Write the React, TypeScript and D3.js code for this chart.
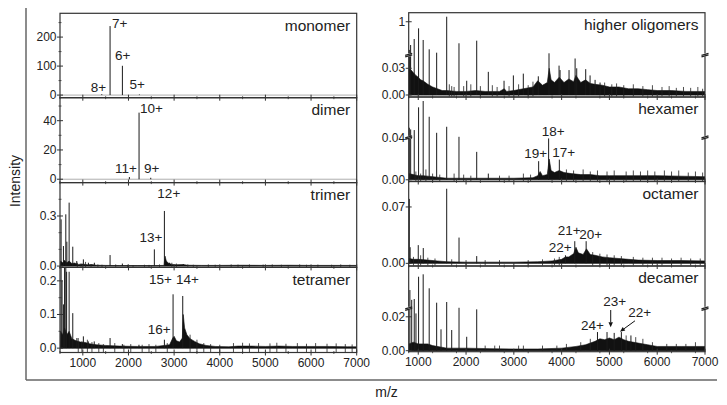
import React from "react";
import * as d3 from "d3";

type P = [number, number];

// ---------- data ----------
const mzTicks = [1000, 2000, 3000, 4000, 5000, 6000, 7000];

const monomerPeaks: P[] = [[1415, 3], [1597, 238], [1867, 101], [2239, 2]];
const dimerPeaks: P[] = [[2020, 1.5], [2232, 45.5], [2488, 1]];
const trimerPeaks: P[] = [
  [524, 0.28], [575, 0.12], [627, 0.31], [650, 0.146], [700, 0.38], [780, 0.116],
  [867, 0.03], [1012, 0.04], [1122, 0.02], [1253, 0.02], [1597, 0.066], [1866, 0.015],
  [2567, 0.1], [2787, 0.33], [2900, 0.02], [3202, 0.012]
];
const tetramerPeaks: P[] = [
  [524, 0.24], [545, 0.2], [575, 0.13], [600, 0.24], [627, 0.24], [645, 0.227], [700, 0.227], [780, 0.104],
  [870, 0.03], [1012, 0.035], [1120, 0.02], [1250, 0.02], [1597, 0.03], [1866, 0.012], [2230, 0.01],
  [2787, 0.025], [2977, 0.16], [3189, 0.155]
];
const higherPeaks: P[] = [
  [813, 0.19], [827, 0.092], [840, 0.33], [915, 0.503], [1007, 0.81], [1103, 0.475], [1229, 0.207],
  [1385, 0.11], [1595, 1.144], [1852, 0.38], [2014, 0.016], [2223, 0.455], [2466, 0.026], [2795, 0.016],
  [2990, 0.022], [3198, 0.024], [3512, 0.021], [3736, 0.092], [3946, 0.033], [3967, 0.028], [4155, 0.028],
  [4282, 0.041], [4316, 0.03], [4504, 0.029], [4595, 0.022], [4700, 0.017], [4804, 0.014]
];
const hexamerPeaks: P[] = [
  [813, 0.27], [841, 0.23], [916, 0.215], [1007, 0.755], [1103, 0.905], [1229, 0.531], [1385, 0.15],
  [1595, 0.293], [1852, 0.055], [2223, 0.027], [2466, 0.006], [3519, 0.018], [3728, 0.04], [3952, 0.0195]
];
const octamerPeaks: P[] = [
  [813, 0.08], [830, 0.02], [1000, 0.0226], [1105, 0.019], [1595, 0.0926], [1853, 0.032], [2223, 0.009],
  [4080, 0.01], [4275, 0.0275], [4513, 0.0275]
];
const decamerPeaks: P[] = [
  [825, 0.0574], [863, 0.04], [916, 0.0415], [952, 0.022], [1007, 0.081], [1103, 0.0853], [1229, 0.0605],
  [1385, 0.035], [1476, 0.0126], [1595, 0.0362], [1700, 0.0122], [1853, 0.026], [2014, 0.0082], [2223, 0.0244],
  [4750, 0.011], [4950, 0.011], [5100, 0.0105], [5250, 0.011], [5450, 0.009]
];

// dense baseline / humps
const trimerNoise: P[] = [
  [500, 0], [510, 0.03], [560, 0.02], [600, 0.035], [650, 0.02], [700, 0.03], [760, 0.015], [820, 0.018],
  [900, 0.01], [1000, 0.012], [1100, 0.008], [1200, 0.009], [1300, 0.005], [1500, 0.004], [1800, 0.003],
  [2200, 0.003], [2600, 0.003], [2780, 0.004], [2800, 0.06], [2830, 0.03], [2870, 0.018], [2950, 0.01],
  [3050, 0.008], [3200, 0.009], [3300, 0.005], [3600, 0.004], [4000, 0.004], [4500, 0.005], [5000, 0.004],
  [5500, 0.005], [6000, 0.004], [6500, 0.004], [7000, 0.004]
];
const tetramerNoise: P[] = [
  [500, 0], [510, 0.05], [560, 0.04], [600, 0.06], [650, 0.04], [700, 0.05], [760, 0.028], [850, 0.022],
  [950, 0.018], [1050, 0.017], [1150, 0.013], [1300, 0.01], [1500, 0.008], [1800, 0.006], [2200, 0.005],
  [2600, 0.005], [2780, 0.008], [2900, 0.01], [2970, 0.03], [3000, 0.035], [3050, 0.022], [3120, 0.018],
  [3180, 0.03], [3200, 0.1], [3230, 0.06], [3280, 0.04], [3350, 0.028], [3450, 0.02], [3550, 0.013],
  [3700, 0.008], [3900, 0.005], [4200, 0.004], [4400, 0.006], [4700, 0.006], [5000, 0.005], [5300, 0.006],
  [5600, 0.005], [6000, 0.005], [6400, 0.005], [6800, 0.004], [7000, 0.004]
];
const higherNoise: P[] = [
  [800, 0.03], [850, 0.028], [900, 0.025], [950, 0.022], [1000, 0.02], [1050, 0.017], [1100, 0.016],
  [1200, 0.012], [1300, 0.009], [1400, 0.007], [1500, 0.005], [1600, 0.005], [1800, 0.004], [2000, 0.004],
  [2200, 0.005], [2400, 0.004], [2700, 0.004], [2800, 0.007], [2850, 0.004], [3000, 0.005], [3200, 0.007],
  [3400, 0.009], [3500, 0.016], [3600, 0.011], [3700, 0.014], [3740, 0.03], [3780, 0.017], [3850, 0.014],
  [3950, 0.02], [4050, 0.014], [4150, 0.018], [4250, 0.015], [4300, 0.022], [4400, 0.014], [4500, 0.017],
  [4600, 0.013], [4700, 0.012], [4850, 0.011], [5000, 0.009], [5200, 0.009], [5400, 0.007], [5600, 0.007],
  [5800, 0.006], [6000, 0.005], [6300, 0.005], [6600, 0.004], [7000, 0.004]
];
const hexamerNoise: P[] = [
  [800, 0.006], [900, 0.005], [1000, 0.004], [1100, 0.004], [1300, 0.003], [1600, 0.0015], [2000, 0.0015],
  [2500, 0.0015], [3000, 0.0015], [3400, 0.002], [3500, 0.004], [3550, 0.008], [3600, 0.004], [3700, 0.005],
  [3740, 0.02], [3780, 0.009], [3850, 0.007], [3950, 0.009], [4050, 0.007], [4200, 0.006], [4400, 0.005],
  [4600, 0.005], [4800, 0.004], [5000, 0.004], [5500, 0.004], [6000, 0.004], [6500, 0.0035], [7000, 0.003]
];
const octamerNoise: P[] = [
  [800, 0.006], [900, 0.005], [1000, 0.005], [1200, 0.004], [1400, 0.003], [1600, 0.002], [2000, 0.0015],
  [2500, 0.0015], [3000, 0.0015], [3500, 0.002], [3800, 0.003], [4000, 0.005], [4080, 0.008], [4150, 0.008],
  [4250, 0.012], [4300, 0.02], [4350, 0.013], [4450, 0.011], [4520, 0.018], [4600, 0.011], [4700, 0.01],
  [4850, 0.008], [5000, 0.007], [5200, 0.006], [5400, 0.005], [5600, 0.004], [6000, 0.0035], [6500, 0.0035],
  [7000, 0.003]
];
const decamerNoise: P[] = [
  [800, 0.004], [900, 0.005], [1000, 0.004], [1200, 0.004], [1300, 0.003], [1600, 0.0015], [2000, 0.0015],
  [2500, 0.0012], [3000, 0.001], [3500, 0.001], [4000, 0.0015], [4300, 0.0025], [4500, 0.0035], [4700, 0.0055],
  [4800, 0.007], [4900, 0.0065], [5000, 0.0075], [5100, 0.0065], [5200, 0.008], [5300, 0.0065], [5400, 0.0055],
  [5600, 0.0045], [5800, 0.0035], [6000, 0.0025], [6500, 0.0025], [7000, 0.0025]
];

// small spikes on the baseline
const trimerGrass: P[] = [
  [880, 0.02], [960, 0.015], [1060, 0.025], [1180, 0.012], [1330, 0.01], [1420, 0.008], [1720, 0.01], [1980, 0.008],
  [2100, 0.006], [2350, 0.008], [2450, 0.007], [2680, 0.01], [2950, 0.02], [3050, 0.015], [3300, 0.01], [3420, 0.008],
  [3750, 0.01], [3900, 0.008], [4250, 0.01], [4400, 0.009], [4650, 0.01], [4950, 0.009], [5150, 0.01], [5350, 0.008],
  [5750, 0.01], [5900, 0.008], [6150, 0.009], [6450, 0.008], [6650, 0.01], [6850, 0.008]
];
const tetramerGrass: P[] = [
  [900, 0.03], [980, 0.02], [1100, 0.025], [1200, 0.018], [1350, 0.015], [1450, 0.012], [1700, 0.015], [1900, 0.01],
  [2050, 0.012], [2300, 0.01], [2450, 0.012], [2600, 0.01], [2850, 0.015], [3350, 0.04], [3500, 0.025], [3650, 0.015],
  [3800, 0.012], [4000, 0.01], [4300, 0.015], [4500, 0.016], [4650, 0.014], [4850, 0.015], [5100, 0.014], [5250, 0.016],
  [5450, 0.013], [5700, 0.015], [5900, 0.013], [6100, 0.015], [6350, 0.013], [6550, 0.014], [6750, 0.012], [6900, 0.011]
];
const higherGrass: P[] = [
  [1650, 0.012], [1700, 0.01], [1750, 0.009], [1950, 0.01], [2100, 0.012], [2300, 0.01], [2550, 0.011], [2650, 0.009],
  [2900, 0.01], [3100, 0.012], [3300, 0.011], [3400, 0.015], [4900, 0.014], [5050, 0.012], [5150, 0.013], [5300, 0.011],
  [5500, 0.012], [5700, 0.01], [5900, 0.011], [6100, 0.009], [6250, 0.01], [6400, 0.008], [6550, 0.009], [6700, 0.008],
  [6850, 0.009], [6950, 0.007]
];
const hexamerGrass: P[] = [
  [950, 0.008], [1050, 0.006], [1160, 0.01], [1300, 0.006], [1450, 0.005], [1750, 0.006], [1950, 0.005], [2100, 0.004],
  [2700, 0.004], [2900, 0.004], [3200, 0.006], [3350, 0.005], [4100, 0.01], [4250, 0.009], [4450, 0.01], [4600, 0.008],
  [4750, 0.009], [4950, 0.008], [5100, 0.009], [5350, 0.008], [5500, 0.009], [5650, 0.008], [5800, 0.009], [5950, 0.008],
  [6150, 0.009], [6300, 0.008], [6450, 0.009], [6650, 0.007], [6800, 0.008], [6950, 0.007]
];
const octamerGrass: P[] = [
  [900, 0.008], [1050, 0.01], [1200, 0.007], [1350, 0.006], [1700, 0.005], [2000, 0.004], [2400, 0.004], [2700, 0.004],
  [3300, 0.004], [3600, 0.005], [3850, 0.006], [3950, 0.008], [4650, 0.014], [4800, 0.012], [4950, 0.011], [5100, 0.01],
  [5250, 0.009], [5500, 0.008], [5700, 0.007], [5900, 0.007], [6100, 0.007], [6300, 0.006], [6500, 0.007], [6700, 0.006],
  [6900, 0.006]
];
const decamerGrass: P[] = [
  [2400, 0.003], [2600, 0.003], [2700, 0.003], [3100, 0.003], [3200, 0.003], [3600, 0.003], [3900, 0.003], [4100, 0.004],
  [4400, 0.005], [4600, 0.007], [5350, 0.009], [5550, 0.008], [5700, 0.007], [5900, 0.005], [6200, 0.004], [6400, 0.004],
  [6600, 0.004], [6800, 0.005]
];

type Lab = [string, number, number];
const monomerLabels: Lab[] = [["7+", 1641, 247], ["6+", 1707, 138], ["8+", 1174, 27], ["5+", 2020, 38]];
const dimerLabels: Lab[] = [["10+", 2254, 48.4], ["11+", 1707, 7.4], ["9+", 2341, 7.4]];
const trimerLabels: Lab[] = [["12+", 2633, 0.436], ["13+", 2239, 0.172]];
const tetramerLabels: Lab[] = [["15+", 2451, 0.205], ["14+", 3042, 0.205], ["16+", 2422, 0.055]];
const higherLabels: Lab[] = [];
const hexamerLabels: Lab[] = [["18+", 3583, 0.174], ["19+", 3219, 0.0254], ["17+", 3805, 0.026]];
const octamerLabels: Lab[] = [["21+", 3918, 0.0402], ["20+", 4370, 0.0362], ["22+", 3729, 0.0193]];
const decamerLabels: Lab[] = [["23+", 4872, 0.0367], ["22+", 5395, 0.0224], ["24+", 4405, 0.0151]];
const decamerArrows: [number, number, number, number][] = [
  [5027, 0.024, 5027, 0.0138],
  [5535, 0.01765, 5221, 0.01118]
];

// ---------- layout ----------
const FONT = "'Liberation Sans', Arial, Helvetica, sans-serif";

interface Panel {
  name: string;
  peaks: P[];
  noise?: P[];
  grass?: P[];
  labels: Lab[];
  ydom: number[];
  breakFrac?: number;
  ticks: number[];
  tickFmt: (v: number) => string;
  minor?: number[];
  arrows?: [number, number, number, number][];
}

const leftPanels: Panel[] = [
  { name: "monomer", peaks: monomerPeaks, labels: monomerLabels, ydom: [-9, 282], ticks: [0, 100, 200], minor: [50, 150, 250], tickFmt: (v) => String(v) },
  { name: "dimer", peaks: dimerPeaks, labels: dimerLabels, ydom: [-2.3, 55.7], ticks: [0, 20, 40], minor: [10, 30, 50], tickFmt: (v) => String(v) },
  { name: "trimer", peaks: trimerPeaks, noise: trimerNoise, grass: trimerGrass, labels: trimerLabels, ydom: [-0.008, 0.5], ticks: [0, 0.3], minor: [0.1, 0.2, 0.4], tickFmt: (v) => v.toFixed(1) },
  { name: "tetramer", peaks: tetramerPeaks, noise: tetramerNoise, grass: tetramerGrass, labels: tetramerLabels, ydom: [-0.013, 0.24], ticks: [0, 0.1, 0.2], minor: [0.05, 0.15], tickFmt: (v) => v.toFixed(1) }
];
const rightPanels: Panel[] = [
  { name: "higher oligomers", peaks: higherPeaks, noise: higherNoise, grass: higherGrass, labels: higherLabels, ydom: [-0.00225, 0.045, 1.26], breakFrac: 0.499, ticks: [0, 0.03, 1], tickFmt: (v) => (v === 1 ? "1" : v.toFixed(2)) },
  { name: "hexamer", peaks: hexamerPeaks, noise: hexamerNoise, grass: hexamerGrass, labels: hexamerLabels, ydom: [-0.00166, 0.041, 1.0], breakFrac: 0.522, ticks: [0, 0.04], tickFmt: (v) => v.toFixed(2) },
  { name: "octamer", peaks: octamerPeaks, noise: octamerNoise, grass: octamerGrass, labels: octamerLabels, ydom: [-0.0033, 0.1016], ticks: [0, 0.07], tickFmt: (v) => v.toFixed(2) },
  { name: "decamer", peaks: decamerPeaks, noise: decamerNoise, grass: decamerGrass, labels: decamerLabels, ydom: [-0.0006, 0.025, 0.1], breakFrac: 0.506, ticks: [0, 0.02], tickFmt: (v) => v.toFixed(2), arrows: decamerArrows }
];

const leftTops = [13.3, 97.7, 182.6, 267.4, 352.5];
const rightTops = [12.7, 97, 181.5, 266, 351.7];

function PanelView({ p, idx, x, top, bottom, last, colId }: { p: Panel; idx: number; x: d3.ScaleLinear<number, number>; top: number; bottom: number; last: boolean; colId: string }) {
  const h = bottom - top;
  const range = p.breakFrac !== undefined ? [bottom, bottom - h * p.breakFrac, top] : [bottom, top];
  const y = d3.scaleLinear().domain(p.ydom).range(range);
  const [x0, x1] = x.range();
  const clipId = `clip-${colId}-${idx}`;
  const area = d3.area<P>().x((d) => x(d[0])).y0(y(0)).y1((d) => y(d[1]));
  const minorX = d3.range(x.domain()[0], 7001, 500).filter((v) => v % 1000 !== 0);
  const yb = p.breakFrac !== undefined ? bottom - h * p.breakFrac : null;
  return (
    <g>
      <defs>
        <clipPath id={clipId}>
          <rect x={x0} y={top} width={x1 - x0} height={h} />
        </clipPath>
      </defs>
      <line x1={x0} x2={x1} y1={y(0)} y2={y(0)} stroke="#999" strokeWidth={0.8} />
      <g clipPath={`url(#${clipId})`}>
        {p.noise && <path d={area(p.noise) || ""} fill="#111" stroke="#111" strokeWidth={0.6} />}
        {(p.grass || []).map((d, i) => (
          <line key={"g" + i} x1={x(d[0])} x2={x(d[0])} y1={bottom - 0.5} y2={y(d[1])} stroke="#222" strokeWidth={0.8} />
        ))}
        {p.peaks.map((d, i) => (
          <line key={i} x1={x(d[0])} x2={x(d[0])} y1={y(0)} y2={y(d[1])} stroke="#1a1a1a" strokeWidth={1} />
        ))}
      </g>
      <rect x={x0} y={top} width={x1 - x0} height={h} fill="none" stroke="#333" strokeWidth={1.2} />
      {mzTicks.map((t) => (
        <line key={t} x1={x(t)} x2={x(t)} y1={bottom - 3} y2={bottom + 3} stroke="#333" strokeWidth={1} />
      ))}
      {minorX.map((t) => (
        <line key={t} x1={x(t)} x2={x(t)} y1={bottom - 1.5} y2={bottom + 1.5} stroke="#333" strokeWidth={0.8} />
      ))}
      {last && mzTicks.map((t) => (
        <text key={t} x={x(t)} y={bottom + 10.5} textAnchor="middle" dominantBaseline="central" fontSize={12} fontFamily={FONT} fill="#222">{t}</text>
      ))}
      {p.ticks.map((t) => (
        <g key={t}>
          <line x1={x0 - 3} x2={x0 + 3} y1={y(t)} y2={y(t)} stroke="#333" strokeWidth={1} />
          <text x={x0 - 3.5} y={y(t)} textAnchor="end" dominantBaseline="central" fontSize={12} fontFamily={FONT} fill="#222">{p.tickFmt(t)}</text>
        </g>
      ))}
      {(p.minor || []).map((t) => (
        <line key={t} x1={x0 - 1.5} x2={x0 + 1.5} y1={y(t)} y2={y(t)} stroke="#333" strokeWidth={0.8} />
      ))}
      {yb !== null && [x0, x1].map((bx) => (
        <g key={bx}>
          <rect x={bx - 2} y={yb - 1.5} width={4} height={3} fill="#fff" />
          <line x1={bx - 3.5} x2={bx + 3.5} y1={yb + 0.5} y2={yb - 1.5} stroke="#222" strokeWidth={1.3} />
          <line x1={bx - 3.5} x2={bx + 3.5} y1={yb + 2} y2={yb} stroke="#222" strokeWidth={1.3} />
        </g>
      ))}
      <text x={x1 - 6.5} y={top + 11.8} textAnchor="end" dominantBaseline="central" fontSize={15.5} fontFamily={FONT} fill="#222">{p.name}</text>
      {p.labels.map((l, i) => (
        <text key={i} x={x(l[1])} y={y(l[2])} dominantBaseline="central" fontSize={13.5} fontFamily={FONT} fill="#222">{l[0]}</text>
      ))}
      {(p.arrows || []).map((a, i) => {
        const ax1 = x(a[0]), ay1 = y(a[1]), ax2 = x(a[2]), ay2 = y(a[3]);
        const ang = Math.atan2(ay2 - ay1, ax2 - ax1);
        const L = 5, W = 2.2;
        const bx = ax2 - L * Math.cos(ang), by = ay2 - L * Math.sin(ang);
        const px = -Math.sin(ang) * W, py = Math.cos(ang) * W;
        return (
          <g key={i}>
            <line x1={ax1} y1={ay1} x2={bx} y2={by} stroke="#111" strokeWidth={1} />
            <path d={`M${ax2},${ay2}L${bx + px},${by + py}L${bx - px},${by - py}Z`} fill="#111" />
          </g>
        );
      })}
    </g>
  );
}

export default function App() {
  const xl = d3.scaleLinear().domain([500, 7000]).range([60, 356.7]);
  const xr = d3.scaleLinear().domain([800, 7000]).range([408.7, 705]);
  return (
    <svg width={727} height={405} style={{ position: "absolute", left: 0, top: 0, background: "#fff" }}>
      <rect width={727} height={405} fill="#fff" />
      <line x1={26} x2={26} y1={8} y2={380} stroke="#666" strokeWidth={1.5} />
      <line x1={26} x2={717} y1={380} y2={380} stroke="#666" strokeWidth={1.5} />
      {leftPanels.map((p, i) => (
        <PanelView key={p.name} p={p} idx={i} x={xl} top={leftTops[i]} bottom={leftTops[i + 1]} last={i === leftPanels.length - 1} colId="l" />
      ))}
      {rightPanels.map((p, i) => (
        <PanelView key={p.name} p={p} idx={i} x={xr} top={rightTops[i]} bottom={rightTops[i + 1]} last={i === rightPanels.length - 1} colId="r" />
      ))}
      <text transform="translate(15,181) rotate(-90)" textAnchor="middle" dominantBaseline="central" fontSize={14} fontFamily={FONT} fill="#222">Intensity</text>
      <text x={386.5} y={391.7} textAnchor="middle" dominantBaseline="central" fontSize={14} fontFamily={FONT} fill="#222">m/z</text>
    </svg>
  );
}
